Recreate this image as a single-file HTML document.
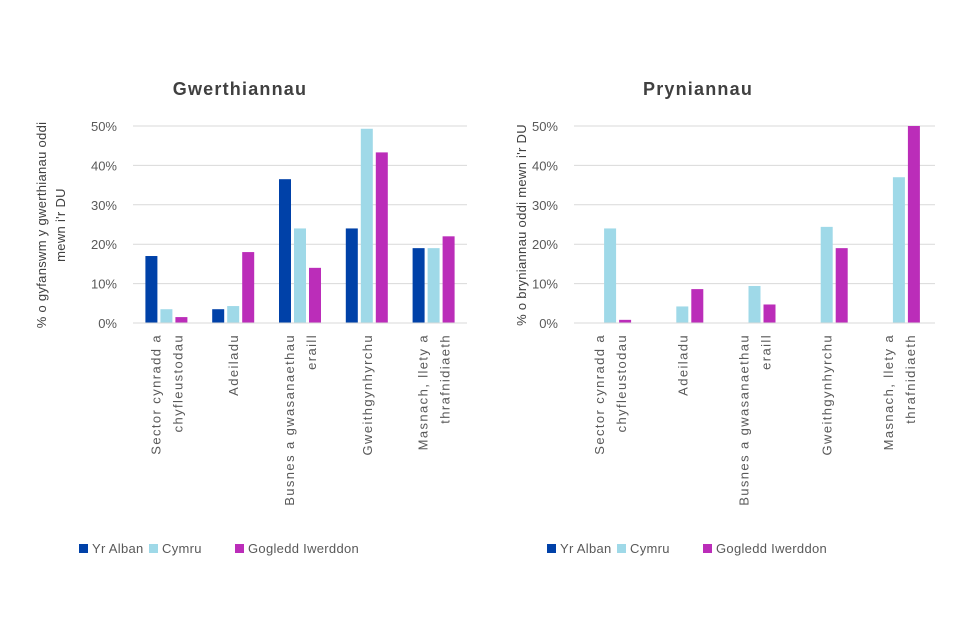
<!DOCTYPE html>
<html><head><meta charset="utf-8"><style>
body{margin:0;background:#fff;}
svg{display:block;font-family:"Liberation Sans",sans-serif;}
</style></head><body>
<svg id="c" width="960" height="640"></svg>
<script>
const categories=[["Sector cynradd a","chyfleustodau"],["Adeiladu"],["Busnes a gwasanaethau","eraill"],["Gweithgynhyrchu"],["Masnach, llety a","thrafnidiaeth"]];
const seriesNames=["Yr Alban","Cymru","Gogledd Iwerddon"];
const sellAlban=[17,3.5,36.5,24,19];
const sellCymru=[3.5,4.3,24,49.3,19];
const sellGI=[1.5,18,14,43.3,22];
const buyAlban=[0,0,0,0,0];
const buyCymru=[24,4.2,9.4,24.4,37];
const buyGI=[0.8,8.6,4.7,19,50];
const ticks=[0,10,20,30,40,50];
const colors=["#0041A8","#9FD9E8","#BB2DB9"];
const NS="http://www.w3.org/2000/svg";
const svg=document.getElementById('c');
function mk(t,a,p){const e=document.createElementNS(NS,t);for(const k in a)e.setAttribute(k,a[k]);(p||svg).appendChild(e);return e;}
function chart(name,title,titleX,x0,x1,yTitle,series,legX){
  const g=mk('g',{});
  
  
  const y0=323,y50=126;
  const ys=v=>y0-(v/50)*(y0-y50);
  const t=mk('text',{x:titleX,y:95,'text-anchor':'middle','font-size':18,'font-weight':'bold',fill:'#404040','letter-spacing':'1.2'},g);
  t.textContent=title;
  
  
  ticks.forEach(v=>{
    const l=mk('line',{x1:x0,x2:x1,y1:ys(v),y2:ys(v),stroke:'#d9d9d9','stroke-width':1},g);
    
    
    const tx=mk('text',{x:x0-16,y:ys(v)+5,'text-anchor':'end','font-size':13,fill:'#595959'},g);
    tx.textContent=v+'%';
    
    
  });
  const yt=mk('text',{'text-anchor':'middle','font-size':13,fill:'#404040','letter-spacing':'0.3',transform:`translate(${yTitle.x},225) rotate(-90)`},g);
  
  
  yTitle.lines.forEach((s,i)=>{const ts=mk('tspan',{x:0,dy:i?19:0},yt);ts.textContent=s;});
  const n=categories.length,cw=(x1-x0)/n,bw=12,gap=3;
  categories.forEach((c,i)=>{
    const cx=x0+cw*(i+0.5);
    series.forEach((arr,s)=>{
      const bx=cx-1.5*bw-gap+s*(bw+gap);
      const v=arr[i];
      const r=mk('rect',{x:bx,y:ys(v),width:bw,height:y0-ys(v),fill:colors[s]},g);
      
      
    });
    const lt=mk('text',{'text-anchor':'end','font-size':13,fill:'#595959','letter-spacing':'1.4',transform:`translate(${cx},334) rotate(-90)`},g);
    
    
    const L=c.length;
    c.forEach((s,k)=>{const ts=mk('tspan',{x:0,y:(k-(L-1)/2)*22+5},lt);ts.textContent=s;});
  });
  const ax=mk('line',{x1:x0,x2:x1,y1:y0,y2:y0,stroke:'#d9d9d9'},g);
  
  
  const offs=[0,70,156];
  seriesNames.forEach((s,i)=>{
    const lg=mk('g',{},g);
    
    
    mk('rect',{x:legX+offs[i],y:544,width:9,height:9,fill:colors[i]},lg);
    const tx=mk('text',{x:legX+offs[i]+13,y:553,'font-size':13,fill:'#595959','letter-spacing':'0.3'},lg);
    tx.textContent=s;
  });
}
chart('sales','Gwerthiannau',240,133,467,{x:46,lines:["% o gyfanswm y gwerthianau oddi","mewn i'r DU"]},[sellAlban,sellCymru,sellGI],79);
chart('purchases','Pryniannau',698,574,935,{x:526,lines:["% o bryniannau oddi mewn i'r DU"]},[buyAlban,buyCymru,buyGI],547);
</script>
</body></html>
